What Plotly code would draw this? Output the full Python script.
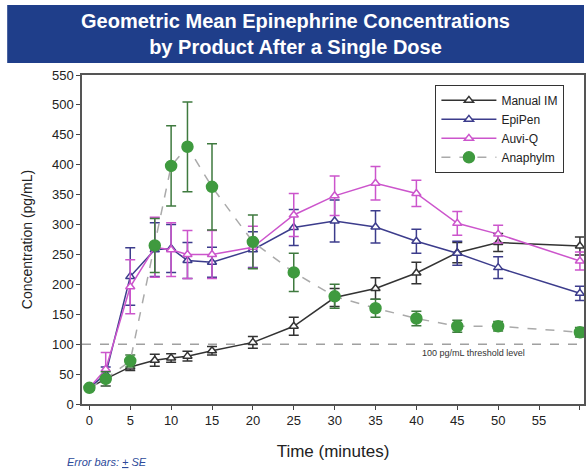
import plotly.graph_objects as go

time = [0, 2, 5, 8, 10, 12, 15, 20, 25, 30, 35, 40, 45, 50, 60]

manual_im = [27, 42, 62, 73, 77, 80, 89, 103, 130, 178, 193, 219, 253, 270, 264]
manual_im_se = [3, 5, 6, 10, 7, 8, 7, 10, 15, 15, 18, 18, 17, 15, 15]

epipen = [27, 50, 213, 258, 260, 240, 237, 258, 295, 306, 296, 272, 252, 228, 185]
epipen_se = [3, 12, 48, 45, 40, 30, 25, 30, 30, 35, 27, 20, 20, 18, 12]

auviq = [27, 58, 196, 262, 258, 250, 250, 262, 316, 348, 369, 352, 302, 284, 239]
auviq_se = [3, 28, 45, 50, 45, 40, 40, 35, 36, 33, 28, 22, 20, 15, 15]

anaphylm = [27, 42, 72, 265, 398, 430, 363, 271, 220, 180, 160, 143, 130, 130, 120]
anaphylm_se = [3, 12, 10, 45, 67, 75, 72, 45, 32, 20, 15, 12, 10, 8, 8]

threshold = 100
x_ticks = list(range(0, 61, 5))
y_ticks = list(range(0, 551, 50))

FONT = "Liberation Sans, Arial, sans-serif"

fig = go.Figure()

def add_series(name, y, se, line_color, marker, dash="solid", marker_color=None,
               fill=None, msize=8, err_color=None):
    mc = marker_color or line_color
    fig.add_trace(go.Scatter(
        x=time, y=y, name=name, mode="lines+markers",
        line=dict(color=line_color, width=1.5, dash=dash),
        marker=dict(symbol=marker, size=msize, color=fill or mc,
                    line=dict(color=mc, width=1.5)),
        error_y=dict(type="data", array=se, visible=True, color=err_color or mc,
                     thickness=1.5, width=5),
    ))

add_series("Manual IM", manual_im, manual_im_se, "#333333", "triangle-up", fill="white")
add_series("EpiPen", epipen, epipen_se, "#3c3c8c", "triangle-up", fill="white")
add_series("Auvi-Q", auviq, auviq_se, "#cc55cc", "triangle-up", fill="white")
add_series("Anaphylm", anaphylm, anaphylm_se, "#aaaaaa", "circle", dash="dash",
           marker_color="#3f9a3f", msize=11, err_color="#3f7a3f")

fig.add_shape(type="line", xref="paper", x0=0, x1=1, yref="y", y0=threshold, y1=threshold,
              line=dict(color="#a0a0a0", width=1.5, dash="dash"), layer="below")
fig.add_annotation(x=47, y=threshold, xref="x", yref="y", text="100 pg/mL threshold level",
                   showarrow=False, yanchor="top", yshift=-2,
                   font=dict(family=FONT, size=9, color="#333333"))

# title banner
fig.add_shape(type="rect", xref="paper", yref="paper", x0=-0.149, x1=1.0, y0=1.0365, y1=1.2128,
              fillcolor="#1f3e8a", line=dict(width=0), layer="above")
fig.add_annotation(xref="paper", yref="paper", x=0.426, y=1.1246,
                   text="<b>Geometric Mean Epinephrine Concentrations<br>by Product After a Single Dose</b>",
                   showarrow=False, font=dict(family=FONT, size=20, color="white"),
                   align="center", xanchor="center", yanchor="middle")

fig.add_annotation(xref="paper", yref="paper", x=-0.034, y=-0.176,
                   text="<i>Error bars: <u>+</u> SE</i>", showarrow=False,
                   xanchor="left", yanchor="middle",
                   font=dict(family=FONT, size=11, color="#2d4a9a"))

fig.update_layout(
    width=586, height=470,
    margin=dict(l=82, r=0, t=75, b=66),
    paper_bgcolor="white", plot_bgcolor="white",
    font=dict(family=FONT, color="#222222"),
    showlegend=True,
    legend=dict(x=0.704, y=0.97, xanchor="left", yanchor="top",
                bordercolor="#333333", borderwidth=1, bgcolor="white",
                font=dict(family=FONT, size=12, color="#222222"),
                tracegroupgap=0, itemwidth=55),
    xaxis=dict(range=[-0.9, 60.5], tickvals=x_ticks, ticks="outside", ticklen=4,
               showline=True, linecolor="#555555", linewidth=1.5, mirror=True,
               showgrid=False, zeroline=False,
               tickfont=dict(family=FONT, size=13, color="#222222"),
               title=dict(text="Time (minutes)", font=dict(family=FONT, size=17, color="#222222"),
                          standoff=18)),
    yaxis=dict(range=[0, 550], tickvals=y_ticks, ticks="outside", ticklen=4,
               showline=True, linecolor="#555555", linewidth=1.5, mirror=True,
               showgrid=False, zeroline=False,
               tickfont=dict(family=FONT, size=13, color="#222222"),
               title=dict(text="Concentration (pg/mL)", font=dict(family=FONT, size=14, color="#222222"),
                          standoff=16)),
)

fig.write_html("out.html", config={"displayModeBar": False},
               post_script="document.body.style.margin='0px';")
